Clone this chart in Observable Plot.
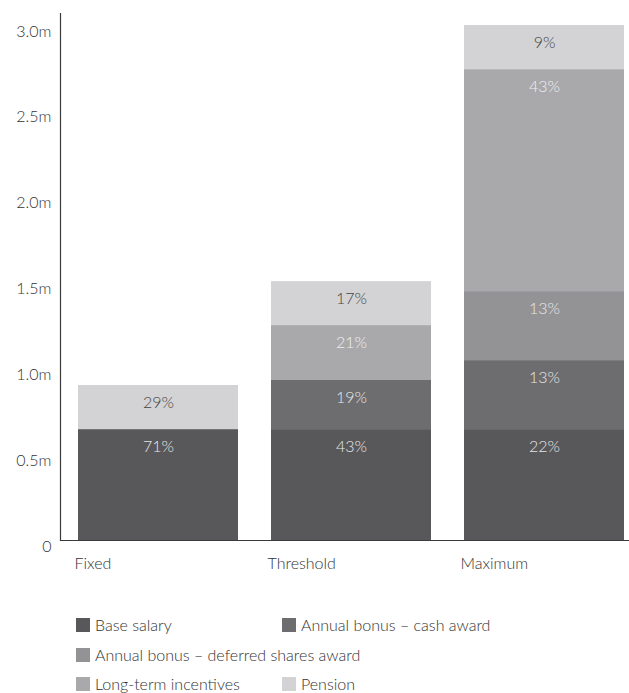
<!DOCTYPE html>
<html>
<head>
<meta charset="utf-8">
<script src="https://cdn.jsdelivr.net/npm/d3@7"></script>
<script src="https://cdn.jsdelivr.net/npm/@observablehq/plot@0.6"></script>
<style>
  body { margin: 0; background: #fff; font-family: Lato, "Open Sans", sans-serif; font-weight: 300; color: #333; }
  #chart svg { display: block; }
  #legend { position: relative; height: 93px; font-size: 16px; }
  .item { position: absolute; display: flex; align-items: center; white-space: nowrap; }
  .sw { width: 14px; height: 14px; margin-right: 5px; }
</style>
</head>
<body>
<div id="chart"></div>
<div id="legend"></div>
<script>
const categories = ["Fixed", "Threshold", "Maximum"];
const components = ["Base salary", "Annual bonus – cash award", "Annual bonus – deferred shares award", "Long-term incentives", "Pension"];
const colors = ["#58585a", "#6d6d6f", "#939396", "#a9a9ac", "#d3d3d5"];
const labelColors = ["#e6e6e6", "#e6e6e6", "#e6e6e6", "#eeeeee", "#444444"];
// values in £m
const fixedValues = [0.646, 0, 0, 0, 0.257];
const thresholdValues = [0.646, 0.286, 0, 0.320, 0.256];
const maximumValues = [0.646, 0.402, 0.402, 1.293, 0.257];
const fixedLabels = ["71%", "", "", "", "29%"];
const thresholdLabels = ["43%", "19%", "", "21%", "17%"];
const maximumLabels = ["22%", "13%", "13%", "43%", "9%"];
const yTicks = [0, 0.5, 1.0, 1.5, 2.0, 2.5, 3.0];

const seriesValues = [fixedValues, thresholdValues, maximumValues];
const seriesLabels = [fixedLabels, thresholdLabels, maximumLabels];
const rows = [];
categories.forEach((cat, i) => {
  let cum = 0;
  components.forEach((comp, j) => {
    const v = seriesValues[i][j];
    cum += v;
    rows.push({category: cat, component: comp, value: v, top: cum, label: seriesLabels[i][j], labelColor: labelColors[j]});
  });
});

const chart = Plot.plot({
  width: 629,
  height: 600,
  marginLeft: 60,
  marginRight: 0,
  marginTop: 13,
  marginBottom: 60,
  style: {fontFamily: "Lato, 'Open Sans', sans-serif", fontSize: "16px", fontWeight: 300, color: "#333"},
  x: {domain: categories, paddingInner: 0.1731, paddingOuter: 0.0568, align: 0.77, label: null},
  y: {domain: [0, 3.07], label: null},
  color: {domain: components, range: colors},
  marks: [
    Plot.barY(rows, {x: "category", y: "value", fill: "component"}),
    Plot.text(rows.filter(d => d.label), {x: "category", y: "top", text: "label", fill: "labelColor", dy: 17, fontSize: 16}),
    Plot.frame({anchor: "left", stroke: "#3a3a3a", strokeWidth: 1.2}),
    Plot.frame({anchor: "bottom", stroke: "#3a3a3a", strokeWidth: 1.2}),
    Plot.axisY({ticks: yTicks, tickFormat: d => d === 0 ? "0" : d.toFixed(1) + "m", tickSize: 0, tickPadding: 9, dy: 6, fontSize: 16, label: null}),
    Plot.axisX({tickSize: 0, tickPadding: 17, textAnchor: "start", dx: -84, fontSize: 16, label: null})
  ]
});
document.getElementById("chart").appendChild(chart);

const legend = document.getElementById("legend");
const positions = [[76, 26], [282, 26], [76, 56], [76, 85], [282, 85]];
components.forEach((c, i) => {
  const el = document.createElement("div");
  el.className = "item";
  el.style.left = positions[i][0] + "px";
  el.style.top = (positions[i][1] - 11) + "px";
  el.innerHTML = `<span class="sw" style="background:${colors[i]}"></span><span>${c}</span>`;
  legend.appendChild(el);
});
</script>
</body>
</html>
